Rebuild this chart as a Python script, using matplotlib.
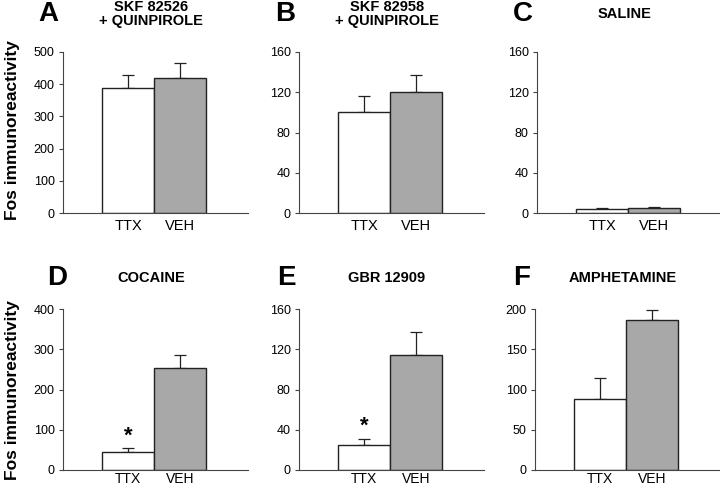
import numpy as np
import matplotlib
matplotlib.use('Agg')
import matplotlib.pyplot as plt

plt.rcParams['font.family'] = ['Liberation Sans', 'DejaVu Sans']

letters = ['A', 'B', 'C', 'D', 'E', 'F']
titles = ['SKF 82526\n+ QUINPIROLE', 'SKF 82958\n+ QUINPIROLE', 'SALINE',
          'COCAINE', 'GBR 12909', 'AMPHETAMINE']
groups = ['TTX', 'VEH']
ttx_mean = [387, 100, 4, 45, 25, 88]
ttx_err = [43, 16, 1, 10, 6, 26]
veh_mean = [420, 120, 5, 253, 114, 186]
veh_err = [47, 17, 1, 33, 23, 13]
ymax = [500, 160, 160, 400, 160, 200]
ystep = [100, 40, 40, 100, 40, 50]
star = [False, False, False, True, True, False]

W, H = 720, 488
fig = plt.figure(figsize=(7.2, 4.88), dpi=100)

lefts = [63, 299, 537, 63, 299, 535]
zeros = [213, 213, 213, 470, 470, 470]
letter_x = [38, 275, 513, 47, 277, 513]
head_y = [14, 14, 14, 278, 278, 278]
ax_h = 161
ax_w = 185

for i in range(6):
    ax = fig.add_axes([lefts[i] / W, 1 - zeros[i] / H, ax_w / W, ax_h / H])
    x = np.arange(2)
    means = [ttx_mean[i], veh_mean[i]]
    errs = [ttx_err[i], veh_err[i]]
    ax.errorbar(x, means, yerr=[[0, 0], errs], fmt='none', ecolor='#222222',
                elinewidth=0.9, capsize=4, capthick=0.9, zorder=1)
    ax.bar(x, means, width=1.0, color=['white', '#a8a8a8'],
           edgecolor='#222222', linewidth=1.0, zorder=2)
    ax.set_xlim(-1.25, 2.3)
    ax.set_ylim(0, ymax[i])
    ax.set_yticks(np.arange(0, ymax[i] + 1, ystep[i]))
    ax.set_xticks(x)
    # bottom row sits on the figure edge, keep its labels inside
    ax.set_xticklabels(groups, fontsize=10.5 if i < 3 else 10)
    ax.tick_params(axis='x', length=0, pad=4 if i < 3 else 1.5)
    ax.tick_params(axis='y', labelsize=9, length=3, width=0.8, pad=3, color='#444444')
    for s in ['top', 'right']:
        ax.spines[s].set_visible(False)
    for s in ['left', 'bottom']:
        ax.spines[s].set_linewidth(0.8)
        ax.spines[s].set_color('#444444')
    if star[i]:
        ax.text(0, ttx_mean[i] + ttx_err[i] + ymax[i] * 0.01, '*', ha='center',
                va='bottom', fontsize=16, fontweight='bold')

    fig.text(letter_x[i] / W, 1 - head_y[i] / H, letters[i], fontsize=20,
             fontweight='bold', ha='left', va='center')
    fig.text((lefts[i] + 88) / W, 1 - head_y[i] / H, titles[i],
             fontsize=10.5, fontweight='bold', ha='center', va='center', linespacing=1.0)

fig.text(13 / W, 1 - 130 / H, 'Fos immunoreactivity', rotation=90, fontsize=12.5,
         fontweight='bold', ha='center', va='center')
fig.text(13 / W, 1 - 390 / H, 'Fos immunoreactivity', rotation=90, fontsize=12.5,
         fontweight='bold', ha='center', va='center')

fig.savefig('out.png', dpi=100, facecolor='white')
